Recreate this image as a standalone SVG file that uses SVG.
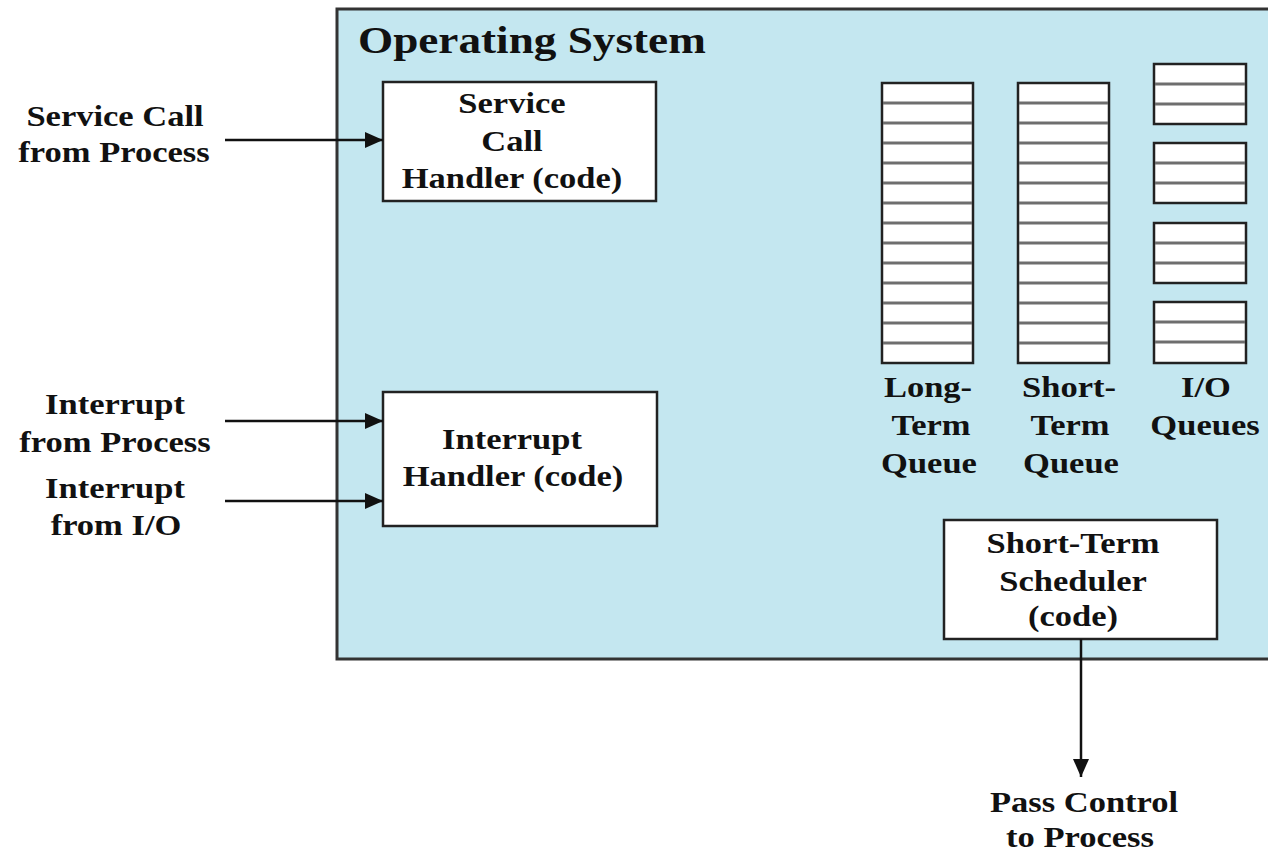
<svg xmlns="http://www.w3.org/2000/svg" width="1268" height="851" viewBox="0 0 1268 851">
<style>
  .t { font-family: "Liberation Serif", "Times New Roman", serif; font-weight: bold; font-size: 29px; fill: #111; text-anchor: middle; }
  .title { font-family: "Liberation Serif", "Times New Roman", serif; font-weight: bold; font-size: 38px; fill: #111; }
  .box { fill: #ffffff; stroke: #222; stroke-width: 2.5; }
  .q { fill: #ffffff; stroke: #222; stroke-width: 2.5; }
  .ql { stroke: #6e6e6e; stroke-width: 3; }
  .conn { stroke: #111; stroke-width: 2.5; fill: none; }
</style>
<defs>
  <marker id="ah" viewBox="0 0 18 16" refX="18" refY="8" markerWidth="18" markerHeight="16" markerUnits="userSpaceOnUse" orient="auto">
    <path d="M0,0 L18,8 L0,16 Z" fill="#111"/>
  </marker>
</defs>
<rect width="1268" height="851" fill="#ffffff"/>

<g id="os">
  <rect x="337" y="9" width="1000" height="650" fill="#c4e7f0" stroke="#333" stroke-width="3"/>
  <text class="title" transform="translate(358,53) scale(1.19,1)">Operating System</text>
</g>

<g id="service-call-handler">
  <rect class="box" x="383" y="82" width="273" height="119"/>
  <text class="t" transform="translate(512,113) scale(1.19,1)">Service</text>
  <text class="t" transform="translate(512,151) scale(1.19,1)">Call</text>
  <text class="t" transform="translate(512,188) scale(1.19,1)">Handler (code)</text>
</g>

<g id="interrupt-handler">
  <rect class="box" x="383" y="392" width="274" height="134"/>
  <text class="t" transform="translate(512,449) scale(1.19,1)">Interrupt</text>
  <text class="t" transform="translate(513,486) scale(1.19,1)">Handler (code)</text>
</g>

<g id="short-term-scheduler">
  <rect class="box" x="944" y="520" width="273" height="119"/>
  <text class="t" transform="translate(1073,553) scale(1.19,1)">Short-Term</text>
  <text class="t" transform="translate(1073,591) scale(1.19,1)">Scheduler</text>
  <text class="t" transform="translate(1073,626) scale(1.19,1)">(code)</text>
</g>

<g id="long-term-queue">
  <rect class="q" x="882" y="83" width="91" height="280"/>
  <path class="ql" d="M883,103H972M883,123H972M883,143H972M883,163H972M883,183H972M883,203H972M883,223H972M883,243H972M883,263H972M883,283H972M883,303H972M883,323H972M883,343H972"/>
  <text class="t" transform="translate(928,397) scale(1.19,1)">Long-</text>
  <text class="t" transform="translate(931,435) scale(1.19,1)">Term</text>
  <text class="t" transform="translate(929,473) scale(1.19,1)">Queue</text>
</g>

<g id="short-term-queue">
  <rect class="q" x="1018" y="83" width="91" height="280"/>
  <path class="ql" d="M1019,103H1108M1019,123H1108M1019,143H1108M1019,163H1108M1019,183H1108M1019,203H1108M1019,223H1108M1019,243H1108M1019,263H1108M1019,283H1108M1019,303H1108M1019,323H1108M1019,343H1108"/>
  <text class="t" transform="translate(1069,397) scale(1.19,1)">Short-</text>
  <text class="t" transform="translate(1070,435) scale(1.19,1)">Term</text>
  <text class="t" transform="translate(1071,473) scale(1.19,1)">Queue</text>
</g>

<g id="io-queues">
  <rect class="q" x="1154" y="64" width="92" height="60"/>
  <path class="ql" d="M1155,84H1245M1155,104H1245"/>
  <rect class="q" x="1154" y="143" width="92" height="60"/>
  <path class="ql" d="M1155,163H1245M1155,183H1245"/>
  <rect class="q" x="1154" y="223" width="92" height="60"/>
  <path class="ql" d="M1155,243H1245M1155,263H1245"/>
  <rect class="q" x="1154" y="302" width="92" height="61"/>
  <path class="ql" d="M1155,322H1245M1155,342H1245"/>
  <text class="t" transform="translate(1206,397) scale(1.19,1)">I/O</text>
  <text class="t" transform="translate(1205,435) scale(1.19,1)">Queues</text>
</g>

<g id="labels">
  <text class="t" transform="translate(115,126) scale(1.19,1)">Service Call</text>
  <text class="t" transform="translate(114,162) scale(1.19,1)">from Process</text>
  <text class="t" transform="translate(115,414) scale(1.19,1)">Interrupt</text>
  <text class="t" transform="translate(115,452) scale(1.19,1)">from Process</text>
  <text class="t" transform="translate(115,498) scale(1.19,1)">Interrupt</text>
  <text class="t" transform="translate(116,535) scale(1.19,1)">from I/O</text>
  <text class="t" transform="translate(1084,812) scale(1.19,1)">Pass Control</text>
  <text class="t" transform="translate(1080,847) scale(1.19,1)">to Process</text>
</g>

<g id="connectors">
  <line class="conn" x1="225" y1="140" x2="383" y2="140" marker-end="url(#ah)"/>
  <line class="conn" x1="225" y1="421" x2="383" y2="421" marker-end="url(#ah)"/>
  <line class="conn" x1="225" y1="501" x2="383" y2="501" marker-end="url(#ah)"/>
  <line class="conn" x1="1081" y1="639" x2="1081" y2="777" marker-end="url(#ah)"/>
</g>
</svg>
